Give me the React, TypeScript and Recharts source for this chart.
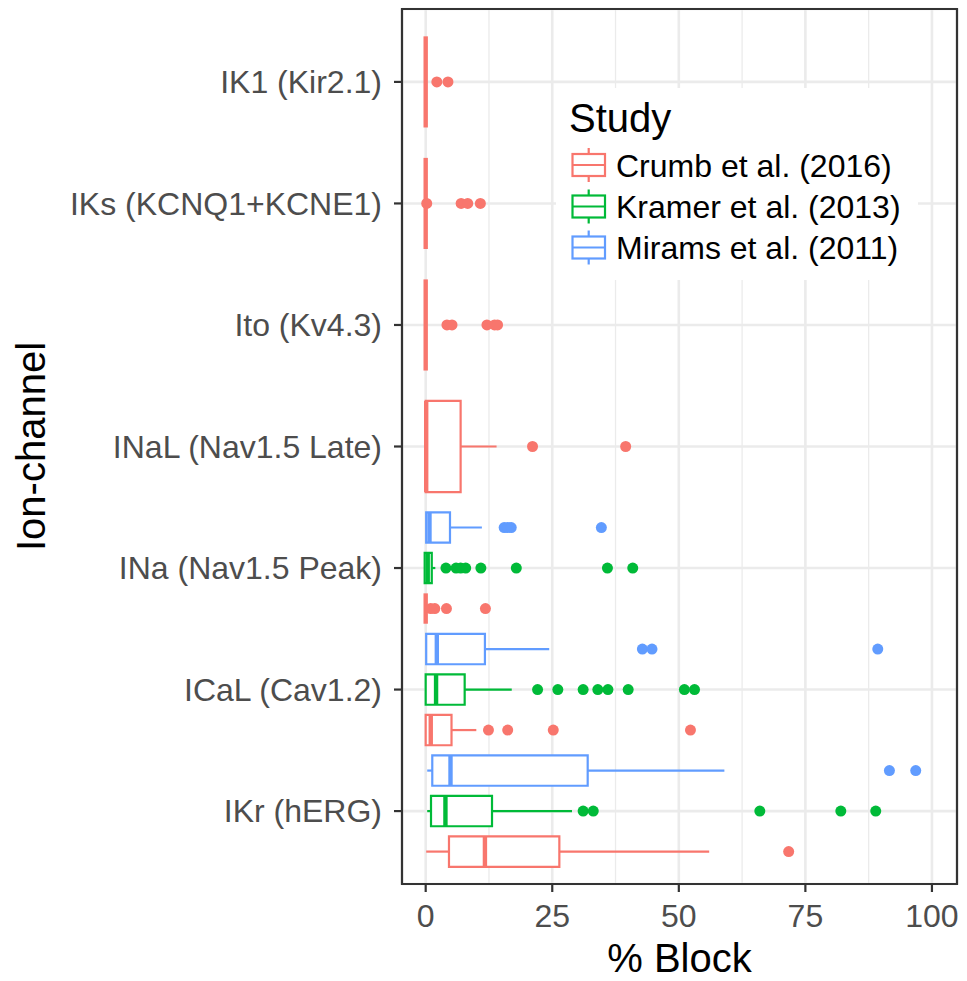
import React from "react";
import {
  CartesianGrid,
  ComposedChart,
  ReferenceArea,
  ReferenceLine,
  Scatter,
  XAxis,
  YAxis,
} from "recharts";

// ion channels, bottom to top
const channels = [
  "IKr (hERG)",
  "ICaL (Cav1.2)",
  "INa (Nav1.5 Peak)",
  "INaL (Nav1.5 Late)",
  "Ito (Kv4.3)",
  "IKs (KCNQ1+KCNE1)",
  "IK1 (Kir2.1)",
];

const studies = ["Crumb et al. (2016)", "Kramer et al. (2013)", "Mirams et al. (2011)"];
const studyColors = ["#F8766D", "#00BA38", "#619CFF"];

const xTicks = [0, 25, 50, 75, 100];
const xMinorTicks = [12.5, 37.5, 62.5, 87.5];

// [channel, lower whisker, q1, median, q3, upper whisker]
type Stat = [string, number, number, number, number, number];

const crumbBoxes: Stat[] = [
  ["IKr (hERG)", 0.1, 4.6, 11.7, 26.4, 56.0],
  ["ICaL (Cav1.2)", 0, 0, 1.0, 5.1, 10.0],
  ["INa (Nav1.5 Peak)", 0, 0, 0, 0, 0],
  ["INaL (Nav1.5 Late)", 0, 0, 0.1, 6.9, 14.0],
  ["Ito (Kv4.3)", 0, 0, 0, 0, 0],
  ["IKs (KCNQ1+KCNE1)", 0, 0, 0, 0, 0],
  ["IK1 (Kir2.1)", 0, 0, 0, 0, 0],
];

const kramerBoxes: Stat[] = [
  ["IKr (hERG)", 0.3, 1.05, 3.9, 13.1, 28.9],
  ["ICaL (Cav1.2)", 0, 0, 2.05, 7.7, 17.0],
  ["INa (Nav1.5 Peak)", -0.2, -0.2, 0.4, 1.2, 1.9],
];

const miramsBoxes: Stat[] = [
  ["IKr (hERG)", 0.3, 1.3, 4.9, 32.0, 59.0],
  ["ICaL (Cav1.2)", 0.1, 0.1, 2.2, 11.7, 24.4],
  ["INa (Nav1.5 Peak)", 0.1, 0.1, 0.75, 4.8, 11.1],
];

const crumbOutliers: [string, number][] = [
  ["IKr (hERG)", 71.7],
  ["ICaL (Cav1.2)", 12.4],
  ["ICaL (Cav1.2)", 16.2],
  ["ICaL (Cav1.2)", 25.2],
  ["ICaL (Cav1.2)", 52.3],
  ["INa (Nav1.5 Peak)", 1.0],
  ["INa (Nav1.5 Peak)", 1.8],
  ["INa (Nav1.5 Peak)", 4.1],
  ["INa (Nav1.5 Peak)", 11.8],
  ["INaL (Nav1.5 Late)", 21.1],
  ["INaL (Nav1.5 Late)", 39.5],
  ["Ito (Kv4.3)", 4.2],
  ["Ito (Kv4.3)", 5.2],
  ["Ito (Kv4.3)", 12.1],
  ["Ito (Kv4.3)", 13.6],
  ["Ito (Kv4.3)", 14.2],
  ["IKs (KCNQ1+KCNE1)", 0.2],
  ["IKs (KCNQ1+KCNE1)", 7.0],
  ["IKs (KCNQ1+KCNE1)", 8.3],
  ["IKs (KCNQ1+KCNE1)", 10.8],
  ["IK1 (Kir2.1)", 2.2],
  ["IK1 (Kir2.1)", 4.4],
];

const kramerOutliers: [string, number][] = [
  ["IKr (hERG)", 31.1],
  ["IKr (hERG)", 33.1],
  ["IKr (hERG)", 66.0],
  ["IKr (hERG)", 82.0],
  ["IKr (hERG)", 88.9],
  ["ICaL (Cav1.2)", 22.1],
  ["ICaL (Cav1.2)", 26.1],
  ["ICaL (Cav1.2)", 31.1],
  ["ICaL (Cav1.2)", 34.0],
  ["ICaL (Cav1.2)", 36.0],
  ["ICaL (Cav1.2)", 40.0],
  ["ICaL (Cav1.2)", 51.1],
  ["ICaL (Cav1.2)", 53.1],
  ["INa (Nav1.5 Peak)", 4.0],
  ["INa (Nav1.5 Peak)", 6.0],
  ["INa (Nav1.5 Peak)", 6.9],
  ["INa (Nav1.5 Peak)", 7.9],
  ["INa (Nav1.5 Peak)", 10.9],
  ["INa (Nav1.5 Peak)", 17.9],
  ["INa (Nav1.5 Peak)", 35.9],
  ["INa (Nav1.5 Peak)", 40.9],
];

const miramsOutliers: [string, number][] = [
  ["IKr (hERG)", 91.6],
  ["IKr (hERG)", 96.8],
  ["ICaL (Cav1.2)", 42.8],
  ["ICaL (Cav1.2)", 44.7],
  ["ICaL (Cav1.2)", 89.3],
  ["INa (Nav1.5 Peak)", 15.5],
  ["INa (Nav1.5 Peak)", 16.2],
  ["INa (Nav1.5 Peak)", 16.9],
  ["INa (Nav1.5 Peak)", 34.7],
];

const studyBoxes = [crumbBoxes, kramerBoxes, miramsBoxes];
const studyOutliers = [crumbOutliers, kramerOutliers, miramsOutliers];

const xDomain = [-4.68, 104.95];
const yDomain = [0.4, 7.6];
const FONT = "'Liberation Sans', Arial, Helvetica, sans-serif";

// dodge position of a study inside a channel, like ggplot's position_dodge
function place(channel: string, study: number) {
  const present = studyBoxes
    .map((b, i) => (b.some((r) => r[0] === channel) ? i : -1))
    .filter((i) => i >= 0);
  const n = present.length;
  const slot = present.indexOf(study);
  const base = channels.indexOf(channel) + 1;
  return { y: base + (slot - (n - 1) / 2) / n, half: 0.375 / n };
}

function Legend() {
  const rows = [77, 118.5, 159.5];
  return (
    <svg
      width={362}
      height={192}
      style={{ position: "absolute", left: 556, top: 88 }}
    >
      <rect x={0} y={0} width={362} height={192} fill="#fff" />
      <text x={13} y={44} fontSize={40} fontFamily={FONT} fill="#000">
        Study
      </text>
      {studies.map((s, i) => {
        const c = rows[i];
        return (
          <g key={s} stroke={studyColors[i]} strokeWidth={2.2} fill="none">
            <line x1={32.7} x2={32.7} y1={c - 17} y2={c + 17} />
            <rect x={16.5} y={c - 11} width={32.5} height={22} fill="#fff" />
            <line x1={16.5} x2={49} y1={c} y2={c} />
            <text
              x={60}
              y={c + 11.5}
              fontSize={32}
              fontFamily={FONT}
              fill="#000"
              stroke="none"
            >
              {s}
            </text>
          </g>
        );
      })}
    </svg>
  );
}

export default function App() {
  const boxMarks = studies.flatMap((study, s) =>
    studyBoxes[s].flatMap(([ch, lo, q1, med, q3, hi]) => {
      const { y, half } = place(ch, s);
      const color = studyColors[s];
      const k = `${study}-${ch}`;
      return [
        <ReferenceLine
          key={k + "-lw"}
          segment={[{ x: lo, y }, { x: q1, y }]}
          stroke={color}
          strokeWidth={2.2}
        />,
        <ReferenceLine
          key={k + "-uw"}
          segment={[{ x: q3, y }, { x: hi, y }]}
          stroke={color}
          strokeWidth={2.2}
        />,
        <ReferenceArea
          key={k + "-box"}
          x1={q1}
          x2={q3}
          y1={y - half}
          y2={y + half}
          fill="#fff"
          fillOpacity={1}
          stroke={color}
          strokeWidth={2.2}
        />,
        <ReferenceLine
          key={k + "-med"}
          segment={[{ x: med, y: y - half }, { x: med, y: y + half }]}
          stroke={color}
          strokeWidth={4.4}
        />,
      ];
    })
  );

  return (
    <div
      style={{
        position: "absolute",
        left: 0,
        top: 0,
        width: 967,
        height: 981,
        background: "#fff",
        fontFamily: FONT,
      }}
    >
      <ComposedChart
        width={967}
        height={981}
        margin={{ top: 9, right: 10, bottom: 0, left: 0 }}
      >
        <CartesianGrid
          stroke="#EBEBEB"
          strokeWidth={1.3}
          horizontal={false}
          verticalValues={xMinorTicks}
        />
        <CartesianGrid stroke="#EBEBEB" strokeWidth={2.6} />
        <XAxis
          type="number"
          dataKey="x"
          domain={xDomain}
          allowDataOverflow
          ticks={xTicks}
          interval={0}
          axisLine={false}
          tickSize={8}
          tickMargin={12}
          tickLine={{ stroke: "#333333", strokeWidth: 2.2 }}
          tick={{ fill: "#4D4D4D", fontSize: 32, fontFamily: FONT }}
          height={97}
          label={{
            value: "% Block",
            position: "insideBottom",
            offset: 9,
            fill: "#000",
            fontSize: 40,
            fontFamily: FONT,
          }}
        />
        <YAxis
          type="number"
          dataKey="y"
          domain={yDomain}
          allowDataOverflow
          ticks={channels.map((_, i) => i + 1)}
          interval={0}
          tickFormatter={(v: number) => channels[v - 1]}
          axisLine={false}
          tickSize={8}
          tickMargin={12}
          tickLine={{ stroke: "#333333", strokeWidth: 2.2 }}
          tick={{ fill: "#4D4D4D", fontSize: 32, fontFamily: FONT }}
          width={402}
          label={{
            value: "Ion-channel",
            angle: -90,
            position: "insideLeft",
            offset: 31,
            textAnchor: "middle",
            fill: "#000",
            fontSize: 40,
            fontFamily: FONT,
          }}
        />
        {boxMarks}
        {studies.map((study, s) => (
          <Scatter
            key={study}
            name={study}
            data={studyOutliers[s].map(([ch, v]) => ({
              x: v,
              y: place(ch, s).y,
            }))}
            isAnimationActive={false}
            shape={(p: any) => (
              <circle cx={p.cx} cy={p.cy} r={5.5} fill={studyColors[s]} />
            )}
          />
        ))}
        <ReferenceArea
          x1={xDomain[0]}
          x2={xDomain[1]}
          y1={yDomain[0]}
          y2={yDomain[1]}
          fill="none"
          stroke="#333333"
          strokeWidth={2.2}
        />
      </ComposedChart>
      <Legend />
    </div>
  );
}
